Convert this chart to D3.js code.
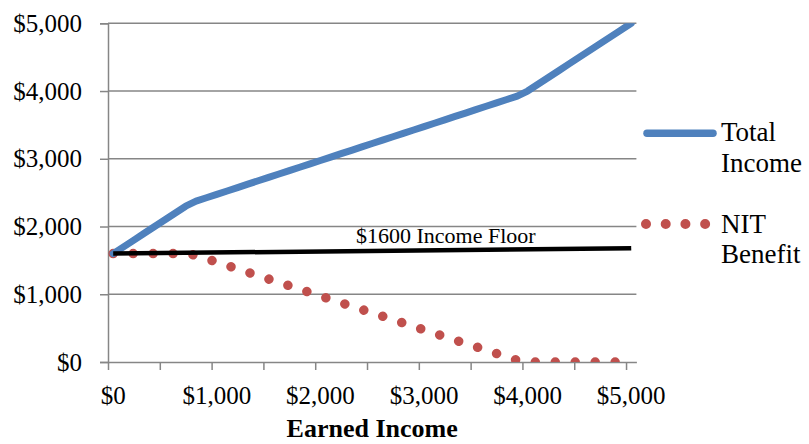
<!DOCTYPE html>
<html>
<head>
<meta charset="utf-8">
<script src="https://cdn.jsdelivr.net/npm/d3@7"></script>
<style>
  html, body { margin: 0; padding: 0; background: #fff; }
  svg { display: block; }
  text { font-family: "Liberation Serif", "Times New Roman", serif; fill: #000; }
</style>
</head>
<body>
<svg id="chart" width="809" height="444"></svg>
<script>
// ---- data ----
const earned = [0,100,200,300,400,500,600,700,800,900,1000,1100,1200,1300,1400,1500,1600,1700,1800,1900,2000,2100,2200,2300,2400,2500,2600,2700,2800,2900,3000,3100,3200,3300,3400,3500,3600,3700,3800,3900,4000,4100,4200,4300,4400,4500,4600,4700,4800,4900,5000];
const totalIncome = [1600,1700,1800,1900,2000,2100,2200,2300,2375,2425,2475,2525,2575,2625,2675,2725,2775,2825,2875,2925,2975,3025,3075,3125,3175,3225,3275,3325,3375,3425,3475,3525,3575,3625,3675,3725,3775,3825,3875,3925,4000,4100,4200,4300,4400,4500,4600,4700,4800,4900,5000];
const nitBenefit = [1600,1600,1600,1600,1600,1600,1600,1600,1575,1525,1475,1425,1375,1325,1275,1225,1175,1125,1075,1025,975,925,875,825,775,725,675,625,575,525,475,425,375,325,275,225,175,125,75,25,0,0,0,0,0,0,0,0,0,0,0];
const floorEarned = [0, 5000];
const floorValues = [1600, 1680];
const yTicks = [0,1000,2000,3000,4000,5000];
const xLabelTicks = [0,1000,2000,3000,4000,5000];
const xMarkTicks = [0,500,1000,1500,2000,2500,3000,3500,4000,4500,5000];
const seriesNames = [["Total", "Income"], ["NIT", "Benefit"]];
const floorLabel = "$1600 Income Floor";
const xTitle = "Earned Income";

// ---- layout ----
const svg = d3.select("#chart");
const L = 108, R = 636.4, T = 23.3, B = 362;
const x = d3.scaleBand().domain(earned).range([L, R]).padding(0);
const xc = d => x(d) + x.bandwidth() / 2;
const xEdge = d3.scaleLinear().domain([0, 5100]).range([L, R]);
const y = d3.scaleLinear().domain([0, 5000]).range([B, T]);
const money = d => "$" + d3.format(",")(d);
const gridColor = "#868686";

// gridlines
svg.append("g").selectAll("line").data(yTicks.filter(d => d > 0)).join("line")
  .attr("x1", L).attr("x2", R).attr("y1", d => y(d)).attr("y2", d => y(d))
  .attr("stroke", gridColor).attr("stroke-width", 1.5);

// y axis
const yAx = svg.append("g").attr("transform", `translate(${L},0)`)
  .call(d3.axisLeft(y).tickValues(yTicks).tickSize(8).tickPadding(18).tickFormat(money));
yAx.select(".domain").attr("stroke", gridColor).attr("stroke-width", 1.5);
yAx.selectAll(".tick line").attr("stroke", gridColor).attr("stroke-width", 1.5);
yAx.selectAll("text").attr("font-size", 25).attr("font-family", "Liberation Serif").attr("fill", "#000");

// x axis tick marks
const xMarks = svg.append("g").attr("transform", `translate(0,${B})`)
  .call(d3.axisBottom(xEdge).tickValues(xMarkTicks).tickSize(8).tickSizeOuter(0).tickFormat(""));
xMarks.select(".domain").attr("stroke", gridColor).attr("stroke-width", 1.5);
xMarks.selectAll(".tick line").attr("stroke", gridColor).attr("stroke-width", 1.5);

// x axis labels
const xLab = svg.append("g").attr("transform", `translate(0,${B})`)
  .call(d3.axisBottom(x).tickValues(xLabelTicks).tickSize(0).tickPadding(24).tickFormat(money));
xLab.select(".domain").remove();
xLab.selectAll("text").attr("font-size", 25).attr("font-family", "Liberation Serif").attr("fill", "#000");

// clip
svg.append("clipPath").attr("id", "plotclip").append("rect")
  .attr("x", L - 10).attr("y", T).attr("width", R - L + 20).attr("height", B - T);

const plot = svg.append("g").attr("clip-path", "url(#plotclip)");

// NIT benefit dotted line
const lineGen = d3.line().x(d => xc(d[0])).y(d => y(d[1]));
plot.append("path")
  .datum(earned.map((e, i) => [e, nitBenefit[i]]))
  .attr("d", lineGen)
  .attr("fill", "none").attr("stroke", "#C0504D").attr("stroke-width", 9.5)
  .attr("stroke-linecap", "round").attr("stroke-dasharray", "0.01 19.95");

// Total income line
plot.append("path")
  .datum(earned.map((e, i) => [e, totalIncome[i]]))
  .attr("d", lineGen)
  .attr("fill", "none").attr("stroke", "#4F81BD").attr("stroke-width", 7)
  .attr("stroke-linejoin", "round").attr("stroke-linecap", "round");

// Income floor line
svg.append("path")
  .datum(floorEarned.map((e, i) => [e, floorValues[i]]))
  .attr("d", lineGen)
  .attr("fill", "none").attr("stroke", "#000").attr("stroke-width", 4.5)
  .attr("stroke-linecap", "butt");

svg.append("text").attr("x", 356).attr("y", 243.3)
  .attr("font-size", 22).text(floorLabel);

// x title
svg.append("text").attr("x", (L + R) / 2).attr("y", 437)
  .attr("text-anchor", "middle").attr("font-size", 26).attr("font-weight", "bold").text(xTitle);

// legend
const lg = svg.append("g");
lg.append("line").attr("x1", 647).attr("x2", 713).attr("y1", 133.3).attr("y2", 133.3)
  .attr("stroke", "#4F81BD").attr("stroke-width", 7.5).attr("stroke-linecap", "round");
lg.append("line").attr("x1", 646).attr("x2", 712).attr("y1", 224).attr("y2", 224)
  .attr("stroke", "#C0504D").attr("stroke-width", 10).attr("stroke-linecap", "round")
  .attr("stroke-dasharray", "0.01 19.7");
const legendText = [[140.7, 171.7], [233.3, 263.3]];
seriesNames.forEach((lines, i) => {
  lines.forEach((s, j) => {
    lg.append("text").attr("x", 721).attr("y", legendText[i][j]).attr("font-size", 27).text(s);
  });
});
</script>
</body>
</html>
